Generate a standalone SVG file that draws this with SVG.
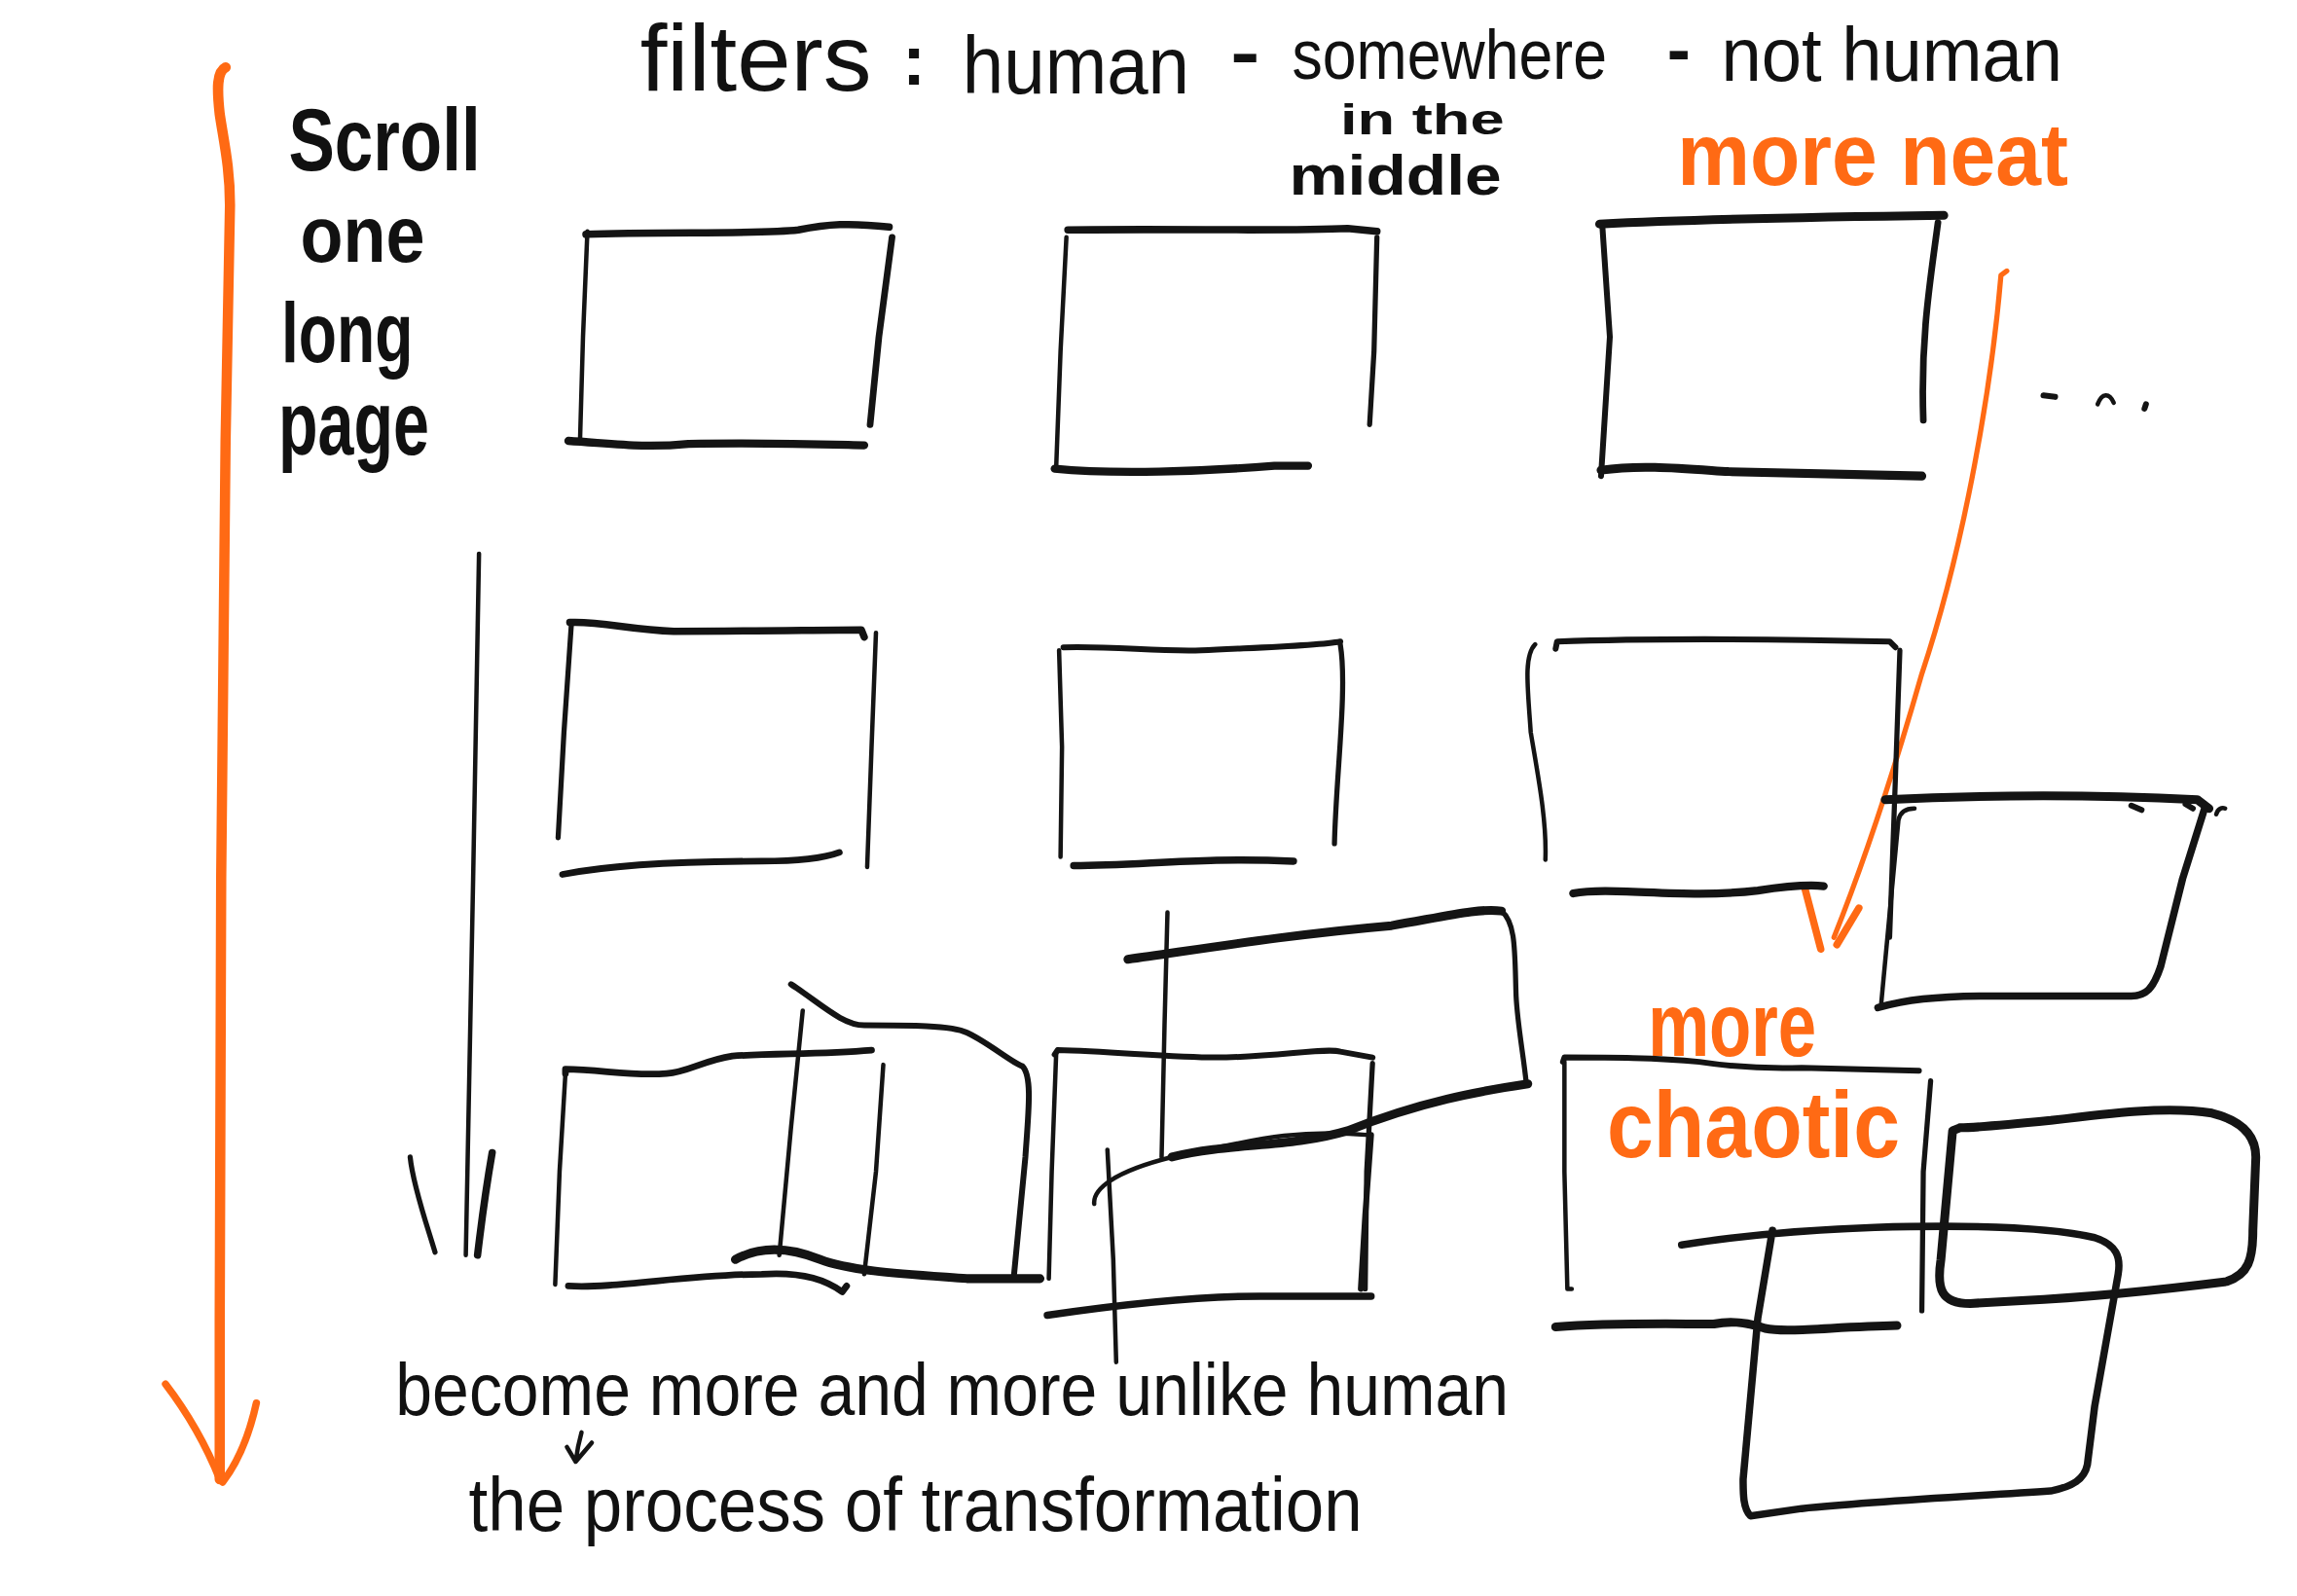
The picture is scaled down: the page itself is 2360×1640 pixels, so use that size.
<svg xmlns="http://www.w3.org/2000/svg" width="2360" height="1640" viewBox="0 0 2360 1640">
<style>
.k{fill:none;stroke:#141414;stroke-linecap:round;stroke-linejoin:round}
.o{fill:none;stroke:#FF6A14;stroke-linecap:round;stroke-linejoin:round}
.t{font-family:"Liberation Sans",Arial,sans-serif;fill:#111}
.b{font-weight:bold}
.ot{font-family:"Liberation Sans",Arial,sans-serif;fill:#FF6A14;font-weight:bold}
</style>
<rect width="2360" height="1640" fill="#ffffff"/>
<g transform="scale(1.505)">
<g id="labels">
<text class="t"><tspan x="437" y="62" font-size="64" textLength="158" lengthAdjust="spacingAndGlyphs">filters</tspan><tspan x="616" y="58" font-size="48" font-weight="bold">:</tspan><tspan x="657" y="64" font-size="56" textLength="155" lengthAdjust="spacingAndGlyphs">human</tspan><tspan x="840" y="52" font-size="48" font-weight="bold" textLength="20" lengthAdjust="spacingAndGlyphs">-</tspan><tspan x="882" y="54" font-size="48" textLength="215" lengthAdjust="spacingAndGlyphs">somewhere</tspan><tspan x="915" y="92" font-size="30" font-weight="bold" textLength="112" lengthAdjust="spacingAndGlyphs">in the</tspan><tspan x="880" y="133" font-size="38" font-weight="bold" textLength="145" lengthAdjust="spacingAndGlyphs">middle</tspan><tspan x="1138" y="50" font-size="48" font-weight="bold" textLength="16" lengthAdjust="spacingAndGlyphs">-</tspan><tspan x="1175" y="55" font-size="52" textLength="233" lengthAdjust="spacingAndGlyphs">not human</tspan></text>
<text class="t b"><tspan x="197" y="116" font-size="60" textLength="131" lengthAdjust="spacingAndGlyphs">Scroll</tspan><tspan x="205" y="179" font-size="54" textLength="85" lengthAdjust="spacingAndGlyphs">one</tspan><tspan x="192" y="247" font-size="58" textLength="90" lengthAdjust="spacingAndGlyphs">long</tspan><tspan x="190" y="310" font-size="62" textLength="103" lengthAdjust="spacingAndGlyphs">page</tspan></text>
<text class="ot" x="1145" y="126" font-size="60" textLength="267" lengthAdjust="spacingAndGlyphs">more neat</text>
<text class="ot"><tspan x="1125" y="721" font-size="62" textLength="115" lengthAdjust="spacingAndGlyphs">more</tspan><tspan x="1097" y="790" font-size="64" textLength="200" lengthAdjust="spacingAndGlyphs">chaotic</tspan></text>
<text class="t" x="270" y="966" font-size="50" textLength="760" lengthAdjust="spacingAndGlyphs">become more and more unlike human</text>
<text class="t" x="320" y="1045" font-size="52" textLength="610" lengthAdjust="spacingAndGlyphs">the process of transformation</text>
</g>
<g id="connectors">
<path class="o" stroke-width="7" d="M154,46 C148,49 148,60 150,78 C153,98 157,115 157,140 L154,300 L151,600 L150,900 L150,1010"/>
<path class="o" stroke-width="5" d="M113,945 C126,962 140,985 150,1010"/>
<path class="o" stroke-width="5" d="M175,958 C171,976 165,995 152,1012"/>
<path class="o" stroke-width="3.5" d="M1370,185 L1366,188 C1360,260 1342,370 1312,460 C1292,530 1272,590 1252,640"/>
<path class="o" stroke-width="5" d="M1232,606 L1243,648"/>
<path class="o" stroke-width="5" d="M1269,620 L1254,645"/>
<path class="k" stroke-width="3" d="M327,378 L323,600 L318,857"/>
<path class="k" stroke-width="3.5" d="M280,790 C282,810 292,838 297,855"/>
<path class="k" stroke-width="5" d="M336,787 C332,810 328,840 326,857"/>
<path class="k" stroke-width="3" d="M397,978 C395,985 394,990 393,998 M387,988 L393,998 L404,985"/>
</g>
<g id="row1-human">
<path class="k" stroke-width="5" d="M400,160 C450,158 520,160 545,157 C565,153 580,152 607,155"/>
<path class="k" stroke-width="3" d="M401,158 L398,230 L396,300"/>
<path class="k" stroke-width="4.5" d="M609,162 L600,230 L594,290"/>
<path class="k" stroke-width="5.5" d="M388,301 C420,303 440,306 470,303 C520,302 550,303 590,304"/>
</g>
<g id="row1-middle">
<path class="k" stroke-width="5" d="M729,157 C800,156 880,158 920,156 L940,158"/>
<path class="k" stroke-width="3" d="M728,162 L724,240 L721,320"/>
<path class="k" stroke-width="3.5" d="M940,162 L938,240 L935,290"/>
<path class="k" stroke-width="5.5" d="M720,320 C760,324 820,322 870,318 L893,318"/>
</g>
<g id="row1-nothuman">
<path class="k" stroke-width="6" d="M1092,153 C1150,150 1250,148 1327,147"/>
<path class="k" stroke-width="4" d="M1094,156 L1099,230 L1093,325"/>
<path class="k" stroke-width="4.5" d="M1323,152 C1318,190 1311,230 1313,287"/>
<path class="k" stroke-width="6" d="M1093,321 C1120,317 1150,320 1180,322 L1312,325"/>
<path class="k" stroke-width="4" d="M1395,270 L1403,271"/>
<path class="k" stroke-width="3" d="M1432,276 C1435,268 1440,268 1443,275"/>
<path class="k" stroke-width="4" d="M1465,276 L1464,279"/>
</g>
<g id="row2-human">
<path class="k" stroke-width="5" d="M389,425 C410,424 430,430 460,431 C520,431 560,430 588,430 L590,435"/>
<path class="k" stroke-width="3.5" d="M390,427 L385,500 L381,572"/>
<path class="k" stroke-width="3" d="M598,432 L595,510 L592,592"/>
<path class="k" stroke-width="4.5" d="M384,597 C420,590 470,588 520,588 C550,588 565,585 573,582"/>
</g>
<g id="row2-middle">
<path class="k" stroke-width="4" d="M726,442 C760,441 790,445 820,444 C860,442 900,441 915,438"/>
<path class="k" stroke-width="3" d="M723,444 L725,510 L724,585"/>
<path class="k" stroke-width="3.5" d="M915,440 C920,470 912,530 911,576"/>
<path class="k" stroke-width="5" d="M733,591 C780,591 820,585 883,588"/>
</g>
<g id="row2-nothuman">
<path class="k" stroke-width="4" d="M1062,443 L1063,438 C1120,436 1200,436 1290,438 L1294,442"/>
<path class="k" stroke-width="3" d="M1048,440 C1040,448 1043,470 1045,500 C1050,530 1056,560 1055,587"/>
<path class="k" stroke-width="3.5" d="M1297,444 L1294,530 L1290,640"/>
<path class="k" stroke-width="5.5" d="M1074,610 C1100,605 1150,614 1200,608 C1220,605 1235,604 1245,605"/>
<path class="k" stroke-width="6" d="M1287,546 C1350,543 1420,542 1500,546 L1508,552"/>
<path class="k" stroke-width="3" d="M1307,552 C1300,552 1297,555 1296,560 L1284,688"/>
<path class="k" stroke-width="5" d="M1505,552 L1490,600 L1475,660 C1470,675 1465,680 1455,680 L1360,680 C1320,680 1300,683 1282,688"/>
<path class="k" stroke-width="4" d="M1455,550 L1462,553 M1492,549 L1497,552"/>
<path class="k" stroke-width="3" d="M1513,556 C1514,552 1517,551 1519,552"/>
</g>
<g id="row3-human">
<path class="k" stroke-width="4.5" d="M386,733 L386,730 C410,730 430,735 455,733 C470,732 480,724 500,721 C530,719 560,720 595,717"/>
<path class="k" stroke-width="3" d="M386,733 L382,800 L379,877"/>
<path class="k" stroke-width="4.5" d="M388,878 C420,880 470,870 520,870 C550,868 565,875 575,882 L578,878"/>
<path class="k" stroke-width="3" d="M548,690 L540,770 L532,857"/>
<path class="k" stroke-width="4" d="M540,672 C560,685 575,700 590,700 C620,700 650,700 660,705 C675,712 690,725 698,728 C705,735 702,760 700,790 L692,873"/>
<path class="k" stroke-width="3" d="M603,727 L598,800 L590,870"/>
<path class="k" stroke-width="6" d="M502,860 C520,850 540,852 560,860 C580,868 620,870 660,873 L710,873"/>
</g>
<g id="row3-middle">
<path class="k" stroke-width="4" d="M720,720 L722,717 C760,718 800,722 830,722 C870,722 905,715 915,718 L937,722"/>
<path class="k" stroke-width="3" d="M721,720 L718,800 L716,873"/>
<path class="k" stroke-width="3.5" d="M937,726 L933,800 L932,880"/>
<path class="k" stroke-width="6" d="M770,655 C820,648 880,638 950,632 C990,625 1010,620 1025,622"/>
<path class="k" stroke-width="3.5" d="M1025,622 C1035,630 1034,650 1035,680 C1036,700 1040,720 1042,740"/>
<path class="k" stroke-width="6" d="M1043,740 C1010,745 970,752 920,772 C880,784 840,780 800,790"/>
<path class="k" stroke-width="3" d="M797,623 L795,700 L793,790"/>
<path class="k" stroke-width="3" d="M747,822 C746,812 760,800 800,790 C850,780 880,770 935,775"/>
<path class="k" stroke-width="3" d="M756,785 L760,860 L762,930"/>
<path class="k" stroke-width="4" d="M936,775 L932,830 L929,880"/>
<path class="k" stroke-width="5" d="M715,898 C770,890 820,885 860,885 L936,885"/>
</g>
<g id="row3-nothuman">
<path class="k" stroke-width="4" d="M1067,725 L1068,722 C1100,722 1130,722 1160,725 C1180,728 1200,730 1230,729 L1310,731"/>
<path class="k" stroke-width="3" d="M1068,725 L1068,800 L1070,880 L1073,880"/>
<path class="k" stroke-width="3.5" d="M1318,738 L1313,800 L1312,895"/>
<path class="k" stroke-width="6" d="M1062,906 C1100,903 1140,904 1170,904 C1180,902 1190,902 1205,907 C1220,910 1250,906 1295,905"/>
<path class="k" stroke-width="6" d="M1338,770 L1333,772 L1325,860 C1322,880 1325,890 1345,890 L1380,888 C1420,886 1480,880 1520,875 C1535,870 1538,860 1538,840 L1540,790 C1540,775 1530,765 1510,760 C1480,755 1440,760 1400,765 C1370,768 1350,770 1338,770"/>
<path class="k" stroke-width="5" d="M1148,850 C1180,845 1220,840 1280,838 C1350,836 1400,838 1430,845 C1445,850 1448,858 1446,870 L1430,960 L1425,1000 C1423,1010 1415,1015 1400,1018 C1340,1022 1280,1025 1230,1030 L1195,1035 C1190,1030 1190,1020 1190,1010 L1200,900 L1210,840"/>
</g>
</g>
</svg>
